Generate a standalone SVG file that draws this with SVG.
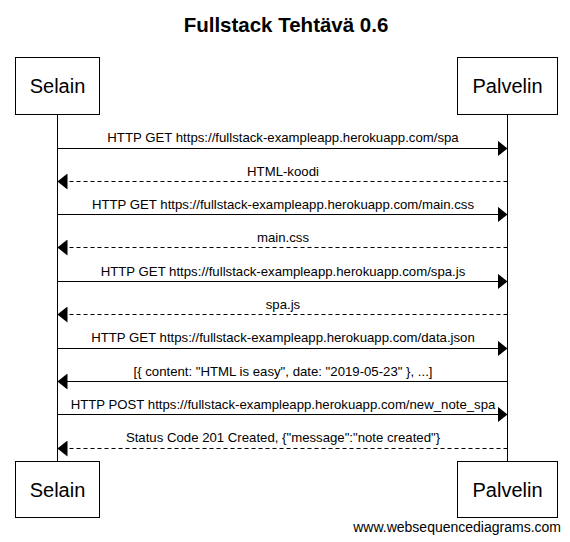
<svg xmlns="http://www.w3.org/2000/svg" width="570" height="542" viewBox="0 0 570 542">
<defs>
<style>
text{font-family:"Liberation Sans",Arial,sans-serif;fill:#000}
.title{font-size:20.5px;font-weight:bold;text-anchor:middle}
.actor rect{fill:#fff;stroke:#000;stroke-width:1}
.actor text{font-size:20px;text-anchor:middle}
.life{stroke:#000;stroke-width:1}
.msg{stroke:#000;stroke-width:1;fill:none}
.dash{stroke-dasharray:4,3}
.lbl{font-size:13.2px;text-anchor:middle}
.wm{font-size:14px;text-anchor:end}
</style>
<marker id="ah" markerWidth="10" markerHeight="16" refX="10" refY="8" orient="auto" markerUnits="userSpaceOnUse">
<path d="M0,0 L10,8 L0,16 Z" fill="#000"/>
</marker>
</defs>
<rect width="570" height="542" fill="#fff"/>
<text class="title" x="286" y="32">Fullstack Tehtävä 0.6</text>
<g id="lifelines">
<line class="life" x1="57.5" y1="114" x2="57.5" y2="461"/>
<line class="life" x1="507.5" y1="114" x2="507.5" y2="461"/>
</g>
<g id="selain-top" class="actor"><rect x="15.5" y="57.5" width="84" height="57"/><text x="57.5" y="93">Selain</text></g>
<g id="palvelin-top" class="actor"><rect x="457.5" y="57.5" width="100" height="57"/><text x="507.5" y="93">Palvelin</text></g>
<g id="selain-bottom" class="actor"><rect x="15.5" y="461.5" width="84" height="56"/><text x="57.5" y="497">Selain</text></g>
<g id="palvelin-bottom" class="actor"><rect x="457.5" y="461.5" width="100" height="56"/><text x="507.5" y="497">Palvelin</text></g>
<g id="connectors">
<line class="msg" x1="57.5" y1="148.5" x2="507.5" y2="148.5" marker-end="url(#ah)"/>
<text class="lbl" x="283" y="142">HTTP GET https://fullstack-exampleapp.herokuapp.com/spa</text>
<line class="msg dash" x1="507.5" y1="181.5" x2="57.5" y2="181.5" marker-end="url(#ah)"/>
<text class="lbl" x="283" y="176">HTML-koodi</text>
<line class="msg" x1="57.5" y1="214.5" x2="507.5" y2="214.5" marker-end="url(#ah)"/>
<text class="lbl" x="283" y="209">HTTP GET https://fullstack-exampleapp.herokuapp.com/main.css</text>
<line class="msg dash" x1="507.5" y1="247.5" x2="57.5" y2="247.5" marker-end="url(#ah)"/>
<text class="lbl" x="283" y="242">main.css</text>
<line class="msg" x1="57.5" y1="281.5" x2="507.5" y2="281.5" marker-end="url(#ah)"/>
<text class="lbl" x="283" y="276">HTTP GET https://fullstack-exampleapp.herokuapp.com/spa.js</text>
<line class="msg dash" x1="507.5" y1="314.5" x2="57.5" y2="314.5" marker-end="url(#ah)"/>
<text class="lbl" x="283" y="309">spa.js</text>
<line class="msg" x1="57.5" y1="348.5" x2="507.5" y2="348.5" marker-end="url(#ah)"/>
<text class="lbl" x="283" y="342">HTTP GET https://fullstack-exampleapp.herokuapp.com/data.json</text>
<line class="msg" x1="507.5" y1="381.5" x2="57.5" y2="381.5" marker-end="url(#ah)"/>
<text class="lbl" x="283" y="376">[{ content: "HTML is easy", date: "2019-05-23" }, ...]</text>
<line class="msg" x1="57.5" y1="414.5" x2="507.5" y2="414.5" marker-end="url(#ah)"/>
<text class="lbl" x="283" y="409">HTTP POST https://fullstack-exampleapp.herokuapp.com/new_note_spa</text>
<line class="msg dash" x1="507.5" y1="448.5" x2="57.5" y2="448.5" marker-end="url(#ah)"/>
<text class="lbl" x="283" y="442">Status Code 201 Created, {"message":"note created"}</text>
</g>
<text class="wm" x="561" y="532">www.websequencediagrams.com</text>
</svg>
